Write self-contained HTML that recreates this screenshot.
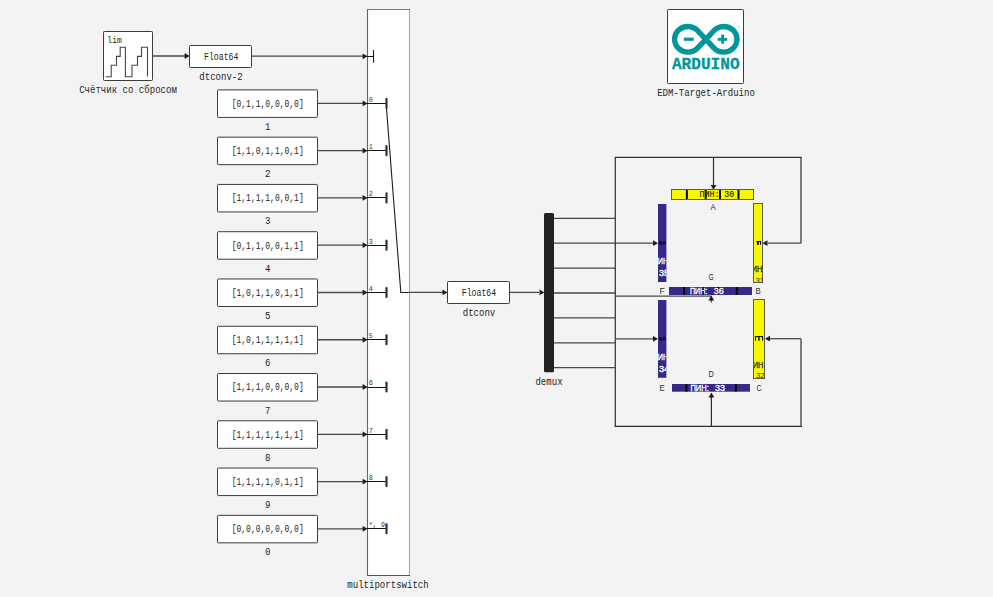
<!DOCTYPE html>
<html><head><meta charset="utf-8"><style>
html,body{margin:0;padding:0;background:#f3f3f3;}
svg{display:block;}
</style></head><body>
<svg width="993" height="597" viewBox="0 0 993 597">
<defs><clipPath id="cF"><rect x="658" y="204" width="8.4" height="78"/></clipPath><clipPath id="cB"><rect x="754" y="204.2" width="8.4" height="78"/></clipPath><clipPath id="cE"><rect x="658" y="300" width="8.4" height="77.8"/></clipPath><clipPath id="cC"><rect x="754" y="299.9" width="10.2" height="78"/></clipPath></defs><rect width="993" height="597" fill="#f3f3f3"/>
<rect x="103.5" y="31.5" width="49" height="49" rx="0.8" fill="#fff" stroke="#3c3c3c" stroke-width="1"/>
<text x="107.3" y="42.8" font-family="Liberation Mono" font-size="9.5" text-anchor="start" fill="#262626" textLength="14.5" lengthAdjust="spacingAndGlyphs" >lim</text>
<path d="M105.7,76.75 H111.2 V65.3 H116.5 V56.4 H120.2 V47.2 H125.4 V76.75 H132 V65.3 H137.5 V56.4 H141.5 V47.2 H147.5 V76.5" fill="none" stroke="#444" stroke-width="1.1"/>
<text x="128" y="92.5" font-family="Liberation Mono" font-size="10" text-anchor="middle" fill="#262626" textLength="97.74" lengthAdjust="spacingAndGlyphs" >Счётчик со сбросом</text>
<line x1="152.5" y1="56" x2="186" y2="56" stroke="#4a4a4a" stroke-width="1.3"/>
<polygon points="189.60,56.00 184.60,53.10 184.60,58.90" fill="#1e1e1e"/>
<rect x="189.5" y="45.5" width="62" height="22" rx="0.8" fill="#fff" stroke="#3c3c3c" stroke-width="1"/>
<text x="221.2" y="59.6" font-family="Liberation Mono" font-size="10" text-anchor="middle" fill="#1c1c1c" textLength="34.2" lengthAdjust="spacingAndGlyphs" >Float64</text>
<text x="221" y="79.8" font-family="Liberation Mono" font-size="10" text-anchor="middle" fill="#262626" textLength="43.44" lengthAdjust="spacingAndGlyphs" >dtconv-2</text>
<line x1="251.5" y1="56.2" x2="363" y2="56.2" stroke="#4a4a4a" stroke-width="1.3"/>
<polygon points="367.60,56.30 362.60,53.40 362.60,59.20" fill="#1e1e1e"/>
<rect x="367.5" y="9.5" width="42" height="566" fill="#fff"/>
<line x1="367.5" y1="9" x2="367.5" y2="576" stroke="#666" stroke-width="1.1"/>
<line x1="409.5" y1="9" x2="409.5" y2="576" stroke="#aaa" stroke-width="1.1"/>
<line x1="367" y1="9.5" x2="410" y2="9.5" stroke="#777" stroke-width="1.1"/>
<line x1="367" y1="575.5" x2="410" y2="575.5" stroke="#555" stroke-width="1.1"/>
<text x="388" y="587.7" font-family="Liberation Mono" font-size="10" text-anchor="middle" fill="#262626" textLength="81.45" lengthAdjust="spacingAndGlyphs" >multiportswitch</text>
<line x1="367" y1="56.5" x2="373.5" y2="56.5" stroke="#151515" stroke-width="1"/>
<line x1="373.5" y1="50" x2="373.5" y2="62.7" stroke="#151515" stroke-width="1.1"/>
<rect x="217.5" y="89.9" width="100" height="27.5" rx="0.8" fill="#fff" stroke="#3c3c3c" stroke-width="1"/>
<text x="267.7" y="106.80000000000001" font-family="Liberation Mono" font-size="10" text-anchor="middle" fill="#1c1c1c" textLength="72" lengthAdjust="spacingAndGlyphs" >[0,1,1,0,0,0,0]</text>
<text x="267.8" y="129.9" font-family="Liberation Mono" font-size="10" text-anchor="middle" fill="#262626" textLength="5.43" lengthAdjust="spacingAndGlyphs" >1</text>
<line x1="317.5" y1="103.4" x2="363" y2="103.4" stroke="#4a4a4a" stroke-width="1.3"/>
<polygon points="367.60,103.40 362.60,100.50 362.60,106.30" fill="#1e1e1e"/>
<line x1="367" y1="103.5" x2="386.5" y2="103.5" stroke="#151515" stroke-width="1"/>
<line x1="386.5" y1="98.9" x2="386.5" y2="107.9" stroke="#333" stroke-width="2.2" stroke-linecap="round"/>
<text x="368.8" y="101.7" font-family="Liberation Mono" font-size="7.2" text-anchor="start" fill="#333" textLength="4.05" lengthAdjust="spacingAndGlyphs" >0</text>
<rect x="217.5" y="137.17000000000002" width="100" height="27.5" rx="0.8" fill="#fff" stroke="#3c3c3c" stroke-width="1"/>
<text x="267.7" y="154.07000000000002" font-family="Liberation Mono" font-size="10" text-anchor="middle" fill="#1c1c1c" textLength="72" lengthAdjust="spacingAndGlyphs" >[1,1,0,1,1,0,1]</text>
<text x="267.8" y="177.17000000000002" font-family="Liberation Mono" font-size="10" text-anchor="middle" fill="#262626" textLength="5.43" lengthAdjust="spacingAndGlyphs" >2</text>
<line x1="317.5" y1="150.67000000000002" x2="363" y2="150.67000000000002" stroke="#4a4a4a" stroke-width="1.3"/>
<polygon points="367.60,150.67 362.60,147.77 362.60,153.57" fill="#1e1e1e"/>
<line x1="367" y1="150.5" x2="386.5" y2="150.5" stroke="#151515" stroke-width="1"/>
<line x1="386.5" y1="146.17000000000002" x2="386.5" y2="155.17000000000002" stroke="#333" stroke-width="2.2" stroke-linecap="round"/>
<text x="368.8" y="148.97000000000003" font-family="Liberation Mono" font-size="7.2" text-anchor="start" fill="#333" textLength="4.05" lengthAdjust="spacingAndGlyphs" >1</text>
<rect x="217.5" y="184.44" width="100" height="27.5" rx="0.8" fill="#fff" stroke="#3c3c3c" stroke-width="1"/>
<text x="267.7" y="201.34" font-family="Liberation Mono" font-size="10" text-anchor="middle" fill="#1c1c1c" textLength="72" lengthAdjust="spacingAndGlyphs" >[1,1,1,1,0,0,1]</text>
<text x="267.8" y="224.44" font-family="Liberation Mono" font-size="10" text-anchor="middle" fill="#262626" textLength="5.43" lengthAdjust="spacingAndGlyphs" >3</text>
<line x1="317.5" y1="197.94" x2="363" y2="197.94" stroke="#4a4a4a" stroke-width="1.3"/>
<polygon points="367.60,197.94 362.60,195.04 362.60,200.84" fill="#1e1e1e"/>
<line x1="367" y1="197.5" x2="386.5" y2="197.5" stroke="#151515" stroke-width="1"/>
<line x1="386.5" y1="193.44" x2="386.5" y2="202.44" stroke="#333" stroke-width="2.2" stroke-linecap="round"/>
<text x="368.8" y="196.24" font-family="Liberation Mono" font-size="7.2" text-anchor="start" fill="#333" textLength="4.05" lengthAdjust="spacingAndGlyphs" >2</text>
<rect x="217.5" y="231.71" width="100" height="27.5" rx="0.8" fill="#fff" stroke="#3c3c3c" stroke-width="1"/>
<text x="267.7" y="248.61" font-family="Liberation Mono" font-size="10" text-anchor="middle" fill="#1c1c1c" textLength="72" lengthAdjust="spacingAndGlyphs" >[0,1,1,0,0,1,1]</text>
<text x="267.8" y="271.71000000000004" font-family="Liberation Mono" font-size="10" text-anchor="middle" fill="#262626" textLength="5.43" lengthAdjust="spacingAndGlyphs" >4</text>
<line x1="317.5" y1="245.21" x2="363" y2="245.21" stroke="#4a4a4a" stroke-width="1.3"/>
<polygon points="367.60,245.21 362.60,242.31 362.60,248.11" fill="#1e1e1e"/>
<line x1="367" y1="245.5" x2="386.5" y2="245.5" stroke="#151515" stroke-width="1"/>
<line x1="386.5" y1="240.71" x2="386.5" y2="249.71" stroke="#333" stroke-width="2.2" stroke-linecap="round"/>
<text x="368.8" y="243.51000000000002" font-family="Liberation Mono" font-size="7.2" text-anchor="start" fill="#333" textLength="4.05" lengthAdjust="spacingAndGlyphs" >3</text>
<rect x="217.5" y="278.98" width="100" height="27.5" rx="0.8" fill="#fff" stroke="#3c3c3c" stroke-width="1"/>
<text x="267.7" y="295.88" font-family="Liberation Mono" font-size="10" text-anchor="middle" fill="#1c1c1c" textLength="72" lengthAdjust="spacingAndGlyphs" >[1,0,1,1,0,1,1]</text>
<text x="267.8" y="318.98" font-family="Liberation Mono" font-size="10" text-anchor="middle" fill="#262626" textLength="5.43" lengthAdjust="spacingAndGlyphs" >5</text>
<line x1="317.5" y1="292.48" x2="363" y2="292.48" stroke="#4a4a4a" stroke-width="1.3"/>
<polygon points="367.60,292.48 362.60,289.58 362.60,295.38" fill="#1e1e1e"/>
<line x1="367" y1="292.5" x2="386.5" y2="292.5" stroke="#151515" stroke-width="1"/>
<line x1="386.5" y1="287.98" x2="386.5" y2="296.98" stroke="#333" stroke-width="2.2" stroke-linecap="round"/>
<text x="368.8" y="290.78000000000003" font-family="Liberation Mono" font-size="7.2" text-anchor="start" fill="#333" textLength="4.05" lengthAdjust="spacingAndGlyphs" >4</text>
<rect x="217.5" y="326.25" width="100" height="27.5" rx="0.8" fill="#fff" stroke="#3c3c3c" stroke-width="1"/>
<text x="267.7" y="343.15" font-family="Liberation Mono" font-size="10" text-anchor="middle" fill="#1c1c1c" textLength="72" lengthAdjust="spacingAndGlyphs" >[1,0,1,1,1,1,1]</text>
<text x="267.8" y="366.25" font-family="Liberation Mono" font-size="10" text-anchor="middle" fill="#262626" textLength="5.43" lengthAdjust="spacingAndGlyphs" >6</text>
<line x1="317.5" y1="339.75" x2="363" y2="339.75" stroke="#4a4a4a" stroke-width="1.3"/>
<polygon points="367.60,339.75 362.60,336.85 362.60,342.65" fill="#1e1e1e"/>
<line x1="367" y1="339.5" x2="386.5" y2="339.5" stroke="#151515" stroke-width="1"/>
<line x1="386.5" y1="335.25" x2="386.5" y2="344.25" stroke="#333" stroke-width="2.2" stroke-linecap="round"/>
<text x="368.8" y="338.05" font-family="Liberation Mono" font-size="7.2" text-anchor="start" fill="#333" textLength="4.05" lengthAdjust="spacingAndGlyphs" >5</text>
<rect x="217.5" y="373.52" width="100" height="27.5" rx="0.8" fill="#fff" stroke="#3c3c3c" stroke-width="1"/>
<text x="267.7" y="390.41999999999996" font-family="Liberation Mono" font-size="10" text-anchor="middle" fill="#1c1c1c" textLength="72" lengthAdjust="spacingAndGlyphs" >[1,1,1,0,0,0,0]</text>
<text x="267.8" y="413.52" font-family="Liberation Mono" font-size="10" text-anchor="middle" fill="#262626" textLength="5.43" lengthAdjust="spacingAndGlyphs" >7</text>
<line x1="317.5" y1="387.02" x2="363" y2="387.02" stroke="#4a4a4a" stroke-width="1.3"/>
<polygon points="367.60,387.02 362.60,384.12 362.60,389.92" fill="#1e1e1e"/>
<line x1="367" y1="387.5" x2="386.5" y2="387.5" stroke="#151515" stroke-width="1"/>
<line x1="386.5" y1="382.52" x2="386.5" y2="391.52" stroke="#333" stroke-width="2.2" stroke-linecap="round"/>
<text x="368.8" y="385.32" font-family="Liberation Mono" font-size="7.2" text-anchor="start" fill="#333" textLength="4.05" lengthAdjust="spacingAndGlyphs" >6</text>
<rect x="217.5" y="420.7900000000001" width="100" height="27.5" rx="0.8" fill="#fff" stroke="#3c3c3c" stroke-width="1"/>
<text x="267.7" y="437.69000000000005" font-family="Liberation Mono" font-size="10" text-anchor="middle" fill="#1c1c1c" textLength="72" lengthAdjust="spacingAndGlyphs" >[1,1,1,1,1,1,1]</text>
<text x="267.8" y="460.7900000000001" font-family="Liberation Mono" font-size="10" text-anchor="middle" fill="#262626" textLength="5.43" lengthAdjust="spacingAndGlyphs" >8</text>
<line x1="317.5" y1="434.2900000000001" x2="363" y2="434.2900000000001" stroke="#4a4a4a" stroke-width="1.3"/>
<polygon points="367.60,434.29 362.60,431.39 362.60,437.19" fill="#1e1e1e"/>
<line x1="367" y1="434.5" x2="386.5" y2="434.5" stroke="#151515" stroke-width="1"/>
<line x1="386.5" y1="429.7900000000001" x2="386.5" y2="438.7900000000001" stroke="#333" stroke-width="2.2" stroke-linecap="round"/>
<text x="368.8" y="432.5900000000001" font-family="Liberation Mono" font-size="7.2" text-anchor="start" fill="#333" textLength="4.05" lengthAdjust="spacingAndGlyphs" >7</text>
<rect x="217.5" y="468.06000000000006" width="100" height="27.5" rx="0.8" fill="#fff" stroke="#3c3c3c" stroke-width="1"/>
<text x="267.7" y="484.96000000000004" font-family="Liberation Mono" font-size="10" text-anchor="middle" fill="#1c1c1c" textLength="72" lengthAdjust="spacingAndGlyphs" >[1,1,1,1,0,1,1]</text>
<text x="267.8" y="508.06000000000006" font-family="Liberation Mono" font-size="10" text-anchor="middle" fill="#262626" textLength="5.43" lengthAdjust="spacingAndGlyphs" >9</text>
<line x1="317.5" y1="481.56000000000006" x2="363" y2="481.56000000000006" stroke="#4a4a4a" stroke-width="1.3"/>
<polygon points="367.60,481.56 362.60,478.66 362.60,484.46" fill="#1e1e1e"/>
<line x1="367" y1="481.5" x2="386.5" y2="481.5" stroke="#151515" stroke-width="1"/>
<line x1="386.5" y1="477.06000000000006" x2="386.5" y2="486.06000000000006" stroke="#333" stroke-width="2.2" stroke-linecap="round"/>
<text x="368.8" y="479.86000000000007" font-family="Liberation Mono" font-size="7.2" text-anchor="start" fill="#333" textLength="4.05" lengthAdjust="spacingAndGlyphs" >8</text>
<rect x="217.5" y="515.33" width="100" height="27.5" rx="0.8" fill="#fff" stroke="#3c3c3c" stroke-width="1"/>
<text x="267.7" y="532.23" font-family="Liberation Mono" font-size="10" text-anchor="middle" fill="#1c1c1c" textLength="72" lengthAdjust="spacingAndGlyphs" >[0,0,0,0,0,0,0]</text>
<text x="267.8" y="555.33" font-family="Liberation Mono" font-size="10" text-anchor="middle" fill="#262626" textLength="5.43" lengthAdjust="spacingAndGlyphs" >0</text>
<line x1="317.5" y1="528.83" x2="363" y2="528.83" stroke="#4a4a4a" stroke-width="1.3"/>
<polygon points="367.60,528.83 362.60,525.93 362.60,531.73" fill="#1e1e1e"/>
<line x1="367" y1="528.5" x2="386.5" y2="528.5" stroke="#151515" stroke-width="1"/>
<line x1="386.5" y1="524.33" x2="386.5" y2="533.33" stroke="#333" stroke-width="2.2" stroke-linecap="round"/>
<text x="368.8" y="527.13" font-family="Liberation Mono" font-size="7.2" text-anchor="start" fill="#333" textLength="16.2" lengthAdjust="spacingAndGlyphs" >*, 9</text>
<polyline points="386.5,108.5 400.8,292.5 409.5,292.5" fill="none" stroke="#1a1a1a" stroke-width="1.1"/>
<line x1="409.5" y1="292.4" x2="443" y2="292.4" stroke="#4a4a4a" stroke-width="1.3"/>
<polygon points="447.50,292.40 442.50,289.50 442.50,295.30" fill="#1e1e1e"/>
<rect x="447.5" y="281.5" width="62" height="22" rx="0.8" fill="#fff" stroke="#3c3c3c" stroke-width="1"/>
<text x="479" y="295.8" font-family="Liberation Mono" font-size="10" text-anchor="middle" fill="#1c1c1c" textLength="34.4" lengthAdjust="spacingAndGlyphs" >Float64</text>
<text x="479" y="316" font-family="Liberation Mono" font-size="10" text-anchor="middle" fill="#262626" textLength="32.58" lengthAdjust="spacingAndGlyphs" >dtconv</text>
<line x1="510" y1="292.4" x2="539" y2="292.4" stroke="#4a4a4a" stroke-width="1.3"/>
<polygon points="544.50,292.40 539.50,289.50 539.50,295.30" fill="#1e1e1e"/>
<rect x="544" y="213" width="10" height="159.3" rx="1.5" fill="#222"/>
<text x="549" y="385" font-family="Liberation Mono" font-size="10" text-anchor="middle" fill="#262626" textLength="27.15" lengthAdjust="spacingAndGlyphs" >demux</text>
<line x1="554" y1="218.3" x2="615" y2="218.3" stroke="#4a4a4a" stroke-width="1.3"/>
<line x1="554" y1="243.20000000000002" x2="653" y2="243.20000000000002" stroke="#4a4a4a" stroke-width="1.3"/>
<polygon points="658.00,243.20 653.00,240.30 653.00,246.10" fill="#1e1e1e"/>
<line x1="554" y1="268.1" x2="615" y2="268.1" stroke="#4a4a4a" stroke-width="1.3"/>
<line x1="554" y1="293.0" x2="615" y2="293.0" stroke="#4a4a4a" stroke-width="1.3"/>
<line x1="554" y1="317.9" x2="615" y2="317.9" stroke="#4a4a4a" stroke-width="1.3"/>
<line x1="554" y1="342.8" x2="615" y2="342.8" stroke="#4a4a4a" stroke-width="1.3"/>
<line x1="554" y1="367.7" x2="615" y2="367.7" stroke="#4a4a4a" stroke-width="1.3"/>
<line x1="615.3" y1="157.4" x2="615.3" y2="426.9" stroke="#2e2e2e" stroke-width="1.2"/>
<line x1="614.7" y1="157.4" x2="801.6" y2="157.4" stroke="#2e2e2e" stroke-width="1.2"/>
<line x1="801" y1="157.4" x2="801" y2="243.2" stroke="#2e2e2e" stroke-width="1.2"/>
<line x1="801" y1="243.2" x2="768" y2="243.2" stroke="#4a4a4a" stroke-width="1.3"/>
<polygon points="762.50,243.20 767.50,240.30 767.50,246.10" fill="#1e1e1e"/>
<line x1="713.5" y1="157.4" x2="713.5" y2="185" stroke="#2e2e2e" stroke-width="1.2"/>
<polygon points="713.50,190.00 710.60,185.00 716.40,185.00" fill="#1e1e1e"/>
<line x1="615" y1="296.1" x2="711.3" y2="296.1" stroke="#4a4a4a" stroke-width="1.3"/>
<line x1="711.3" y1="296.1" x2="711.3" y2="302.6" stroke="#4a4a4a" stroke-width="1.3"/>
<polygon points="711.30,295.50 708.40,300.50 714.20,300.50" fill="#1e1e1e"/>
<line x1="615" y1="338.8" x2="653" y2="338.8" stroke="#4a4a4a" stroke-width="1.3"/>
<polygon points="658.00,338.80 653.00,335.90 653.00,341.70" fill="#1e1e1e"/>
<line x1="614.7" y1="426.3" x2="801.6" y2="426.3" stroke="#2e2e2e" stroke-width="1.2"/>
<line x1="801" y1="338.7" x2="801" y2="426.9" stroke="#2e2e2e" stroke-width="1.2"/>
<line x1="801" y1="338.7" x2="770" y2="338.7" stroke="#4a4a4a" stroke-width="1.3"/>
<polygon points="765.00,338.70 770.00,335.80 770.00,341.60" fill="#1e1e1e"/>
<line x1="711.4" y1="426.2" x2="711.4" y2="397" stroke="#2e2e2e" stroke-width="1.2"/>
<polygon points="711.40,392.40 708.50,397.40 714.30,397.40" fill="#1e1e1e"/>
<rect x="671.5" y="189.5" width="82" height="10" fill="#f8f800" stroke="#5a5a5a" stroke-width="1"/>
<rect x="685.9" y="190" width="2" height="9" fill="#0a0a0a"/>
<rect x="704.7" y="190" width="2" height="9" fill="#0a0a0a"/>
<rect x="719" y="190" width="2" height="9" fill="#0a0a0a"/>
<rect x="737.5" y="190" width="2" height="9" fill="#0a0a0a"/>
<text x="699.5" y="196.7" font-family="Liberation Mono" font-size="9" text-anchor="start" fill="#262600" stroke="#262600" stroke-width="0.15" textLength="34.8" lengthAdjust="spacingAndGlyphs">ПИН: 30</text>
<rect x="658" y="204" width="8.4" height="78" fill="#37298a"/>
<path d="M659.80,244.70 V241.70 H661.00 V244.20 H663.40 V241.70 H665.20 V244.70" fill="none" stroke="#000" stroke-width="1"/>
<g clip-path="url(#cF)"><text x="652.5" y="264" font-family="Liberation Sans" font-size="9.5" text-anchor="start" fill="#fff" stroke="#fff" stroke-width="0.35" textLength="18" lengthAdjust="spacingAndGlyphs">ПИН:</text><text x="658.9" y="276" font-family="Liberation Sans" font-size="9.5" text-anchor="start" fill="#fff" stroke="#fff" stroke-width="0.35" textLength="10" lengthAdjust="spacingAndGlyphs">35</text></g>
<rect x="753.5" y="203.5" width="9" height="79" fill="#f8f800" stroke="#5a5a5a" stroke-width="1"/>
<path d="M756.3,241.5 H761 M757.9,241.5 V244.8 M760.5,241.5 V244.8" fill="none" stroke="#000" stroke-width="1.1"/><rect x="757" y="241" width="1.7" height="3.8" fill="#000"/>
<g clip-path="url(#cB)"><text x="746.5" y="271.8" font-family="Liberation Sans" font-size="9.5" text-anchor="start" fill="#262600" stroke="#262600" stroke-width="0.3" textLength="18" lengthAdjust="spacingAndGlyphs">ПИН:</text><text x="755.5" y="282.5" font-family="Liberation Sans" font-size="8" text-anchor="start" fill="#262600" textLength="8.5" lengthAdjust="spacingAndGlyphs">31</text></g>
<rect x="669" y="287" width="83" height="8" fill="#37298a"/>
<rect x="683.2" y="287" width="2" height="8" fill="#0a0a0a"/>
<rect x="702.6" y="287" width="2" height="8" fill="#0a0a0a"/>
<rect x="717" y="287" width="2" height="8" fill="#0a0a0a"/>
<rect x="735.8" y="287" width="2" height="8" fill="#0a0a0a"/>
<text x="689.9" y="294.2" font-family="Liberation Sans" font-size="9.5" text-anchor="start" fill="#fff" stroke="#fff" stroke-width="0.35" textLength="17.5" lengthAdjust="spacingAndGlyphs">ПИН:</text>
<text x="713.8" y="294.2" font-family="Liberation Sans" font-size="9.5" text-anchor="start" fill="#fff" stroke="#fff" stroke-width="0.35" textLength="10" lengthAdjust="spacingAndGlyphs">36</text>
<rect x="658" y="300" width="8.4" height="77.8" fill="#37298a"/>
<path d="M659.80,340.30 V337.30 H661.00 V339.80 H663.40 V337.30 H665.20 V340.30" fill="none" stroke="#000" stroke-width="1"/>
<g clip-path="url(#cE)"><text x="652.5" y="360" font-family="Liberation Sans" font-size="9.5" text-anchor="start" fill="#fff" stroke="#fff" stroke-width="0.35" textLength="18" lengthAdjust="spacingAndGlyphs">ПИН:</text><text x="658.9" y="372" font-family="Liberation Sans" font-size="9.5" text-anchor="start" fill="#fff" stroke="#fff" stroke-width="0.35" textLength="10" lengthAdjust="spacingAndGlyphs">34</text></g>
<rect x="753.5" y="299.5" width="11" height="79" fill="#f8f800" stroke="#5a5a5a" stroke-width="1"/>
<path d="M755.1,336.6 H763 M755.5,336.6 V340.7 M762.6,336.6 V340.7" fill="none" stroke="#000" stroke-width="1"/><rect x="758.3" y="336.2" width="1.3" height="4.5" fill="#000"/>
<g clip-path="url(#cC)"><text x="747.5" y="367.8" font-family="Liberation Sans" font-size="9.5" text-anchor="start" fill="#262600" stroke="#262600" stroke-width="0.3" textLength="18" lengthAdjust="spacingAndGlyphs">ПИН:</text><text x="756" y="378.3" font-family="Liberation Sans" font-size="8" text-anchor="start" fill="#262600" textLength="8.5" lengthAdjust="spacingAndGlyphs">32</text></g>
<rect x="672" y="384" width="78" height="7.7" fill="#37298a"/>
<rect x="685.4" y="384" width="2" height="7.699999999999989" fill="#0a0a0a"/>
<rect x="734.9" y="384" width="2" height="7.699999999999989" fill="#0a0a0a"/>
<text x="690.4" y="391" font-family="Liberation Sans" font-size="9.5" text-anchor="start" fill="#fff" stroke="#fff" stroke-width="0.35" textLength="18.4" lengthAdjust="spacingAndGlyphs">ПИН:</text>
<text x="715" y="391" font-family="Liberation Sans" font-size="9.5" text-anchor="start" fill="#fff" stroke="#fff" stroke-width="0.35" textLength="10" lengthAdjust="spacingAndGlyphs">33</text>
<text x="713" y="210.3" font-family="Liberation Sans" font-size="9" text-anchor="middle" fill="#2a2a2a" textLength="5.2" lengthAdjust="spacingAndGlyphs" >A</text>
<text x="711" y="279.8" font-family="Liberation Sans" font-size="9" text-anchor="middle" fill="#2a2a2a" textLength="5.2" lengthAdjust="spacingAndGlyphs" >G</text>
<text x="662" y="293.8" font-family="Liberation Sans" font-size="9" text-anchor="middle" fill="#2a2a2a" textLength="5.2" lengthAdjust="spacingAndGlyphs" >F</text>
<text x="758" y="293.8" font-family="Liberation Sans" font-size="9" text-anchor="middle" fill="#2a2a2a" textLength="5.2" lengthAdjust="spacingAndGlyphs" >B</text>
<text x="711" y="376.8" font-family="Liberation Sans" font-size="9" text-anchor="middle" fill="#2a2a2a" textLength="5.2" lengthAdjust="spacingAndGlyphs" >D</text>
<text x="662" y="390.8" font-family="Liberation Sans" font-size="9" text-anchor="middle" fill="#2a2a2a" textLength="5.2" lengthAdjust="spacingAndGlyphs" >E</text>
<text x="759" y="390.8" font-family="Liberation Sans" font-size="9" text-anchor="middle" fill="#2a2a2a" textLength="5.2" lengthAdjust="spacingAndGlyphs" >C</text>
<rect x="667.5" y="9.5" width="76" height="74" rx="0.8" fill="#fff" stroke="#3c3c3c" stroke-width="1"/>
<path d="M705.8,39.3 L697.78,30.73 A13.3,12.8 0 1 0 697.78,47.87 L705.8,39.3 L713.82,30.73 A13.3,12.8 0 1 1 713.82,47.87 Z" fill="none" stroke="#00979c" stroke-width="5.4" stroke-linejoin="miter"/>
<rect x="683.8" y="37.6" width="10" height="3.2" fill="#00979c"/>
<rect x="717.7" y="37.9" width="9.5" height="2.9" fill="#00979c"/><rect x="721.2" y="34.6" width="2.9" height="9.1" fill="#00979c"/>
<text x="737" y="27.5" font-family="Liberation Sans" font-size="3" fill="#00979c">™</text>
<text x="705.8" y="68.8" font-family="Liberation Mono" font-size="16.5" text-anchor="middle" fill="#00979c" stroke="#00979c" stroke-width="0.3" textLength="67.7" lengthAdjust="spacingAndGlyphs" font-weight="bold">ARDUINO</text>
<text x="706" y="95.9" font-family="Liberation Mono" font-size="10" text-anchor="middle" fill="#262626" textLength="97.74" lengthAdjust="spacingAndGlyphs" >EDM-Target-Arduino</text>
</svg></body></html>
